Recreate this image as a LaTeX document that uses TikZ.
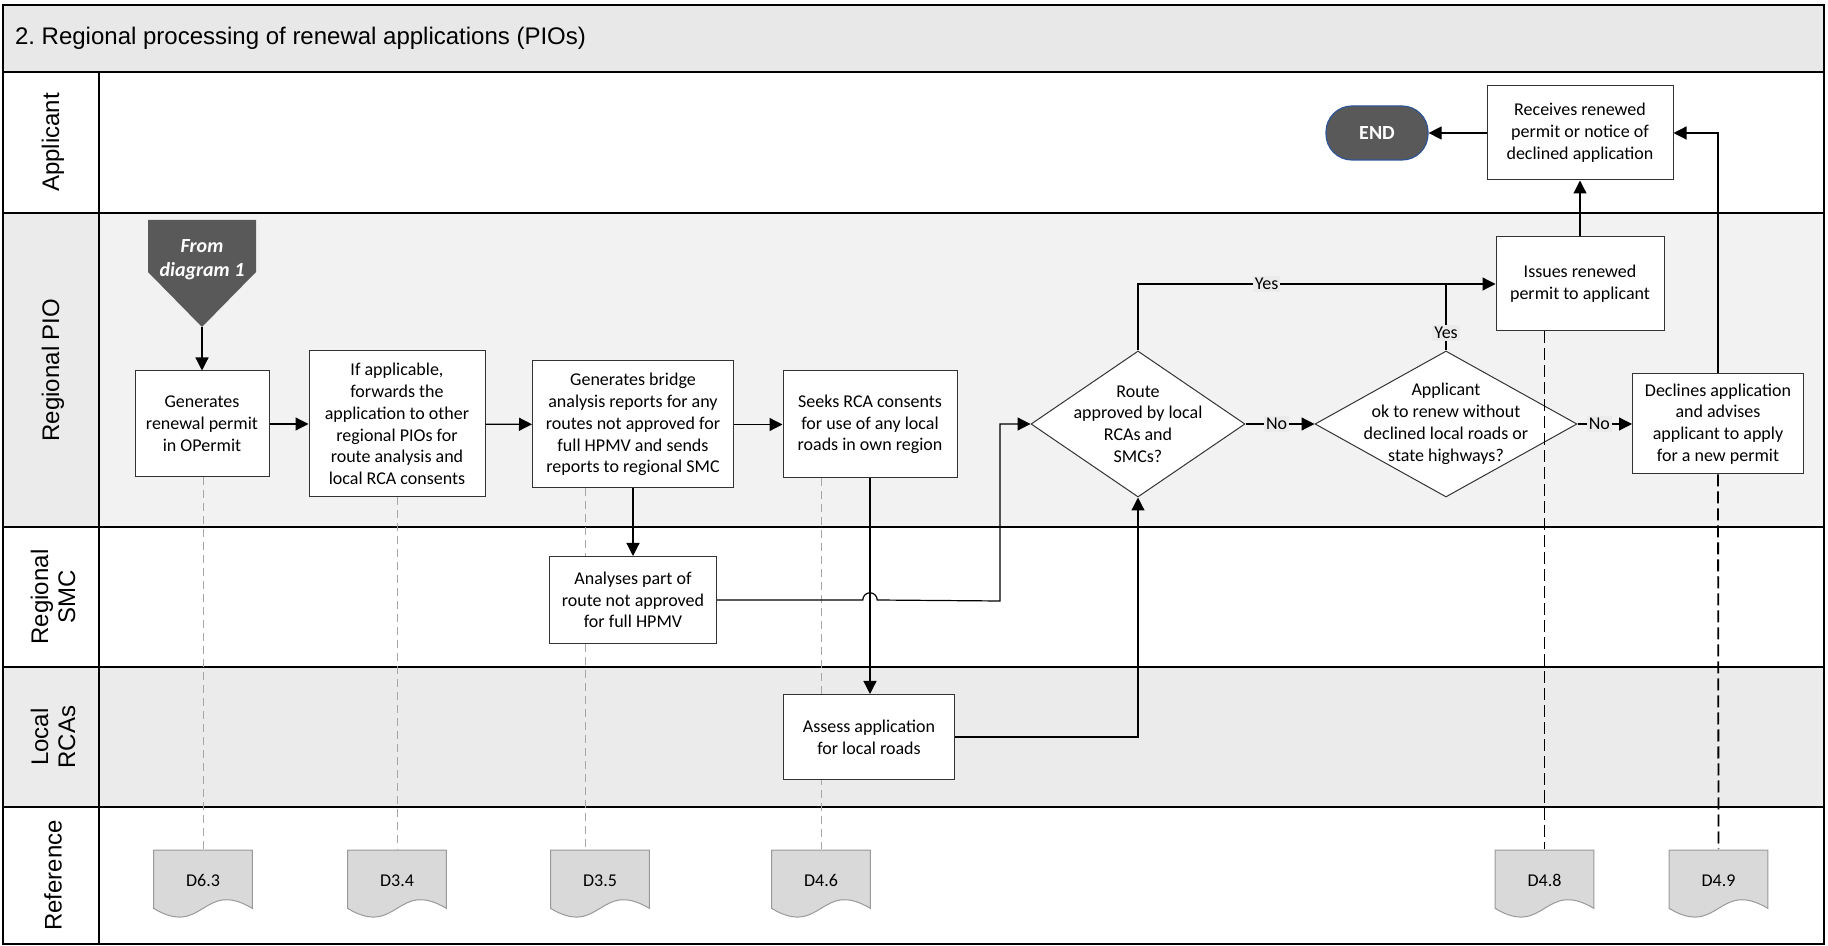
\documentclass[tikz,border=0pt]{standalone}
\usepackage{fontspec}
\setmainfont{Carlito}
\newfontfamily\lanefont{Liberation Sans}
\usetikzlibrary{shapes.geometric,arrows.meta,calc}
\definecolor{titlegray}{HTML}{E8E8E8}
\definecolor{piogray}{HTML}{F2F2F2}
\definecolor{lanegray}{HTML}{EBEBEB}
\definecolor{darkbox}{HTML}{595959}
\definecolor{endblue}{HTML}{2F5496}
\definecolor{docgray}{HTML}{D9D9D9}

\begin{document}
\begin{tikzpicture}[x=0.5pt,y=-0.5pt,
	boxfont/.style={font=\fontsize{9}{10.9}\selectfont},
	box/.style={boxfont,draw=black!80,fill=white,line width=0.5pt,align=center,inner sep=1pt},
	dec/.style={draw=black!80,fill=white,diamond,line width=0.5pt,inner sep=0pt},
	dtext/.style={boxfont,align=center,inner sep=0pt},
	flow/.style={line width=0.6pt,-{Triangle[length=6.5pt,width=6.5pt]}},
	link/.style={line width=0.6pt},
	tag/.style={boxfont,fill=lanegray,inner sep=1pt},
	refdoc/.style={boxfont,minimum width=50pt,minimum height=34.5pt,anchor=north,inner sep=0pt,text depth=3.5pt,
		path picture={\draw[fill=docgray,draw=black!40,line width=0.5pt]
			([xshift=0.3pt,yshift=-0.3pt]path picture bounding box.north west) --
			([xshift=-0.3pt,yshift=-0.3pt]path picture bounding box.north east) --
			([xshift=-0.3pt,yshift=5pt]path picture bounding box.south east) .. controls +(-25pt,15pt) and +(25pt,-15pt) ..
			([xshift=0.3pt,yshift=5pt]path picture bounding box.south west) -- cycle;}},
	greyref/.style={draw=black!35,line width=0.5pt,dash pattern=on 4pt off 2.5pt},
	blackref/.style={draw=black,line width=0.9pt,dash pattern=on 6pt off 2.5pt},
	lane/.style={font={\lanefont\fontsize{12}{13.5}\selectfont},align=center,rotate=90}]
	\useasboundingbox (0,0) rectangle (1828,946);
	\fill[titlegray] (3,5) rectangle (1824,72);
	\fill[piogray] (99,213) rectangle (1824,527);
	\fill[lanegray] (3,213) rectangle (99,527);
	\fill[lanegray] (3,667) rectangle (1824,807);
	\draw[line width=1pt] (3,5) rectangle (1824,944);
	\foreach \y in {72,213,527,667,807} \draw[line width=1pt] (3,\y) -- (1824,\y);
	\draw[line width=1pt] (99,72) -- (99,944);
	\node[anchor=west,font={\lanefont\fontsize{12}{13.5}\selectfont}] (title) at (8,38) {2.\ Regional processing of renewal applications (PIOs)};
	\node[lane] (lapp) at (53,142.5) {Applicant};
	\node[lane] (lpio) at (53,370) {Regional PIO};
	\node[lane] (lsmc) at (53,597) {Regional\\SMC};
	\node[lane] (lrca) at (53,737) {Local\\RCAs};
	\node[lane] (lref) at (53,875.5) {Reference};

	\fill[darkbox] (148,220) -- (256,220) -- (256,272) -- (202,327) -- (148,272) -- cycle;
	\coordinate (srctip) at (202,327);
	\node[boxfont,text=white,font=\bfseries\itshape,align=center] (src) at (202,260) {From\\diagram 1};

	\node[box,minimum width=67pt,minimum height=53pt] (b1) at (202,424) {Generates\\renewal permit\\in OPermit};
	\node[box,minimum width=88pt,minimum height=73pt] (b2) at (397,424) {If applicable,\\forwards the\\application to other\\regional PIOs for\\route analysis and\\local RCA consents};
	\node[box,minimum width=100.5pt,minimum height=63.5pt] (b3) at (633,424.5) {Generates bridge\\analysis reports for any\\routes not approved for\\full HPMV and sends\\reports to regional SMC};
	\node[box,minimum width=87pt,minimum height=53.5pt] (b4) at (870,424.5) {Seeks RCA consents\\for use of any local\\roads in own region};

	\node[refdoc] (r63) at (203,849) {D6.3};
	\node[refdoc] (r34) at (397,849) {D3.4};
	\node[refdoc] (r35) at (600,849) {D3.5};
	\node[refdoc] (r46) at (821,849) {D4.6};
	\node[refdoc] (r48) at (1544.5,849) {D4.8};
	\node[refdoc] (r49) at (1718.5,849) {D4.9};

	\coordinate (k35) at (585,0);
	\draw[greyref] (b1.south -| r63) -- (r63.north);
	\draw[greyref] (b2.south) -- (r34.north);
	\draw[greyref] (b3.south -| k35) -- (r35.north -| k35);
	\draw[greyref] (b4.south -| r46) -- (r46.north);

	\node[box,minimum width=83.5pt,minimum height=43.5pt] (b5) at (633,600) {Analyses part of\\route not approved\\for full HPMV};
	\node[box,minimum width=85.5pt,minimum height=42.5pt] (b6) at (869,737) {Assess application\\for local roads};
	\node[dec,minimum width=107pt,minimum height=73pt,label={[dtext]center:{Route\\approved by local\\RCAs and\\SMCs?}}] (d1) at (1138,424) {};
	\node[dec,minimum width=131pt,minimum height=73pt,label={[dtext]center:{Applicant\\ok to renew without\\declined local roads or\\state highways?}}] (d2) at (1446,424) {};
	\node[box,minimum width=84pt,minimum height=47pt] (b7) at (1580,284) {Issues renewed\\permit to applicant};
	\node[box,minimum width=93pt,minimum height=47pt] (b8) at (1580,133) {Receives renewed\\permit or notice of\\declined application};
	\node[box,minimum width=85.5pt,minimum height=50pt] (b9) at (1718,424) {Declines application\\and advises\\applicant to apply\\for a new permit};
	\node[draw=endblue,fill=darkbox,text=white,font=\fontsize{10}{12}\selectfont\bfseries,rounded corners=13pt,minimum width=51pt,minimum height=27pt,line width=0.6pt] (end) at (1377,133) {END};

	\draw[flow] (srctip) -- (b1.north);
	\draw[flow] (b1) -- (b2);
	\draw[flow] (b2) -- (b3);
	\draw[flow] (b3) -- (b4);
	\draw[flow] (b3) -- (b5);
	\draw[flow] (b4.south) -- (b4.south |- b6.north);
	\coordinate (hop) at (b4.south |- b5.east);
	\coordinate (bend) at (1000,601);
	\draw[flow] (b5.east) -- ($(hop)+(-3.6pt,0)$) arc[start angle=180,end angle=0,radius=3.6pt] -- (bend) |- (d1.west);
	\draw[flow] (b6.east) -| (d1.south);
	\draw[flow] (d1.north) |- node[tag,pos=0.68] {Yes} (b7.west);
	\draw[link] (d2.north) -- node[tag,pos=0.26] {Yes} (d2.north |- b7.west);
	\draw[flow] (d1.east) -- node[tag,pos=0.45] {No} (d2.west);
	\draw[flow] (d2.east) -- node[tag,pos=0.4] {No} (b9.west);
	\draw[flow] (b9.north) |- (b8.east);
	\draw[flow] (b7.north) -- (b8.south);
	\draw[flow] (b8.west) -- (end.east);

	\draw[blackref] (b7.south -| r48) -- (r48.north);
	\draw[blackref] (b9.south) -- (r49.north);
\end{tikzpicture}
\end{document}
